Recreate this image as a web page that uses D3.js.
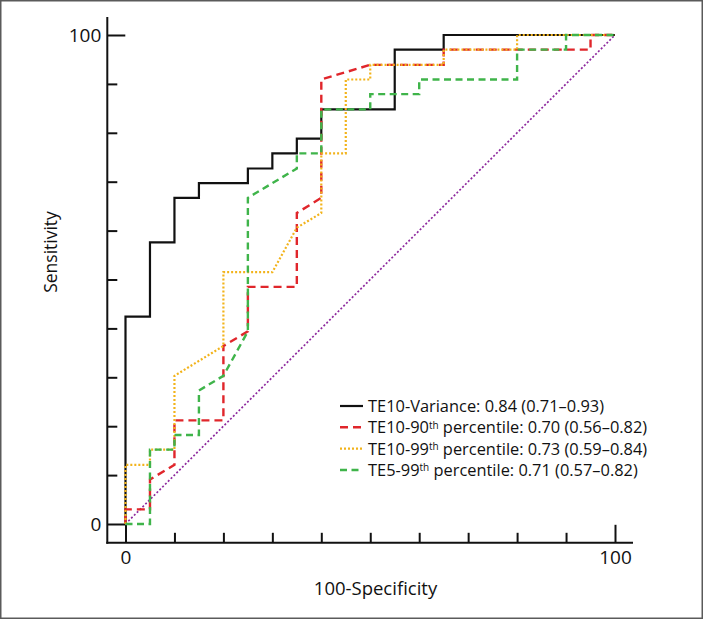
<!DOCTYPE html>
<html>
<head>
<meta charset="utf-8">
<script src="https://cdn.jsdelivr.net/npm/d3@7"></script>
<style>
  html, body { margin: 0; padding: 0; background: #fff; }
  svg { display: block; }
  text { font-family: "Open Sans", "Noto Sans", sans-serif; fill: #111; }
</style>
</head>
<body>
<svg id="chart" width="703" height="619"></svg>
<script>
// ---- data (100-Specificity vs Sensitivity vertices of each ROC curve) ----
const varianceX = [0,0,5,5,10,10,15,15,25,25,30,30,35,35,40,40,55,55,65,65,100];
const varianceY = [0,42.4,42.4,57.6,57.6,66.7,66.7,69.7,69.7,72.7,72.7,75.8,75.8,78.8,78.8,84.8,84.8,97,97,100,100];

const p90X = [0,0,5,5,10,10,20,20,25,25,35,35,40,40,50,65,65,95,95,100];
const p90Y = [0,3,3,9.1,12.1,21.2,21.2,36.4,39.4,48.5,48.5,63.6,66.7,90.9,93.9,93.9,97,97,100,100];

const p99X = [0,0,5,5,10,10,20,20,30,35,40,40,45,45,50,50,65,65,80,80,100];
const p99Y = [0,12.1,12.1,15.2,15.2,30.3,36.4,51.5,51.5,60.6,63.6,75.8,75.8,90.9,90.9,93.9,93.9,97,97,100,100];

const te5X = [0,5,5,10,10,15,15,20,25,25,35,35,40,40,50,50,60,60,80,80,90,90,100];
const te5Y = [0,0,15.2,15.2,18.2,18.2,27.3,30.3,39.4,66.7,72.7,75.8,75.8,84.8,84.8,87.9,87.9,90.9,90.9,97,97,100,100];

const refX = [0,100];
const refY = [0,100];

const xTickMajor = [0,100];
const xTickMinor = [10,20,30,40,50,60,70,80,90];
const yTickMajor = [0,100];
const yTickMinor = [10,20,30,40,50,60,70,80,90];

const legendLabels = [
  {pre:"TE10-Variance: 0.84 (0.71\u20130.93)", sup:"", post:""},
  {pre:"TE10-90", sup:"th", post:" percentile: 0.70 (0.56\u20130.82)"},
  {pre:"TE10-99", sup:"th", post:" percentile: 0.73 (0.59\u20130.84)"},
  {pre:"TE5-99", sup:"th", post:" percentile: 0.71 (0.57\u20130.82)"}
];

// ---- drawing ----
const svg = d3.select("#chart");
svg.append("rect").attr("x",0.75).attr("y",0.75).attr("width",701.5).attr("height",617.5)
  .attr("fill","#fff").attr("stroke","#5a5a5a").attr("stroke-width",1.5);

const x = d3.scaleLinear().domain([0,100]).range([125.5,615]);
const y = d3.scaleLinear().domain([0,100]).range([524,35]);

const axisX0 = 107.3, axisY0 = 542.8;

// axis lines
svg.append("line").attr("x1",axisX0).attr("x2",axisX0).attr("y1",17).attr("y2",axisY0+1)
  .attr("stroke","#111").attr("stroke-width",2);
svg.append("line").attr("x1",axisX0-1).attr("x2",633).attr("y1",axisY0).attr("y2",axisY0)
  .attr("stroke","#111").attr("stroke-width",2);

// y ticks
const gyMin = svg.append("g").attr("transform",`translate(${axisX0},0)`)
  .call(d3.axisLeft(y).tickValues(yTickMinor).tickSize(-10).tickFormat(""));
const gyMaj = svg.append("g").attr("transform",`translate(${axisX0},0)`)
  .call(d3.axisLeft(y).tickValues(yTickMajor).tickSize(-18).tickPadding(6).tickFormat(d3.format("d")));
// x ticks
const gxMin = svg.append("g").attr("transform",`translate(0,${axisY0})`)
  .call(d3.axisBottom(x).tickValues(xTickMinor).tickSize(-10).tickFormat(""));
const gxMaj = svg.append("g").attr("transform",`translate(0,${axisY0})`)
  .call(d3.axisBottom(x).tickValues(xTickMajor).tickSize(-18).tickPadding(8).tickFormat(d3.format("d")));

[gyMin,gyMaj,gxMin,gxMaj].forEach(g => {
  g.select(".domain").remove();
  g.selectAll(".tick line").attr("stroke","#111").attr("stroke-width",2);
  g.selectAll(".tick text").attr("fill","#111").style("font-family","'Open Sans', sans-serif").style("font-size","19px");
});

// axis titles
svg.append("text").attr("x",375.5).attr("y",595).attr("text-anchor","middle")
  .style("font-size","18.5px").text("100-Specificity");
svg.append("text").attr("transform","translate(57,252) rotate(-90)").attr("text-anchor","middle")
  .style("font-size","17.5px").text("Sensitivity");

const line = d3.line().x(d => x(d[0])).y(d => y(d[1]));
const zipXY = (xs, ys) => xs.map((v,i) => [v, ys[i]]);

const series = [
  {xs:refX, ys:refY, color:"#8e2a9e", width:1.7, dash:"2,2"},
  {xs:varianceX, ys:varianceY, color:"#111", width:2.2, dash:null},
  {xs:p90X, ys:p90Y, color:"#e0262b", width:2.4, dash:"8,5"},
  {xs:p99X, ys:p99Y, color:"#f2b31b", width:2.2, dash:"2,2"},
  {xs:te5X, ys:te5Y, color:"#3fb44a", width:2.4, dash:"7,4.5"}
];

series.forEach(s => {
  svg.append("path").datum(zipXY(s.xs, s.ys))
    .attr("d", line).attr("fill","none")
    .attr("stroke", s.color).attr("stroke-width", s.width)
    .attr("stroke-dasharray", s.dash)
    .attr("stroke-linejoin","miter");
});

// legend
const legendSeries = series.slice(1);
const rowY = [406, 427.3, 448.7, 470];
legendSeries.forEach((s,i) => {
  svg.append("line").attr("x1",340).attr("x2",363).attr("y1",rowY[i]).attr("y2",rowY[i])
    .attr("stroke",s.color).attr("stroke-width",s.width).attr("stroke-dasharray",s.dash);
  const t = svg.append("text").attr("x",368).attr("y",rowY[i]+5.8).style("font-size","16.4px");
  const lb = legendLabels[i];
  t.append("tspan").text(lb.pre);
  if (lb.sup) {
    t.append("tspan").attr("dy",-4.5).style("font-size","10px").text(lb.sup);
    t.append("tspan").attr("dy",4.5).text(lb.post);
  }
});
</script>
</body>
</html>
